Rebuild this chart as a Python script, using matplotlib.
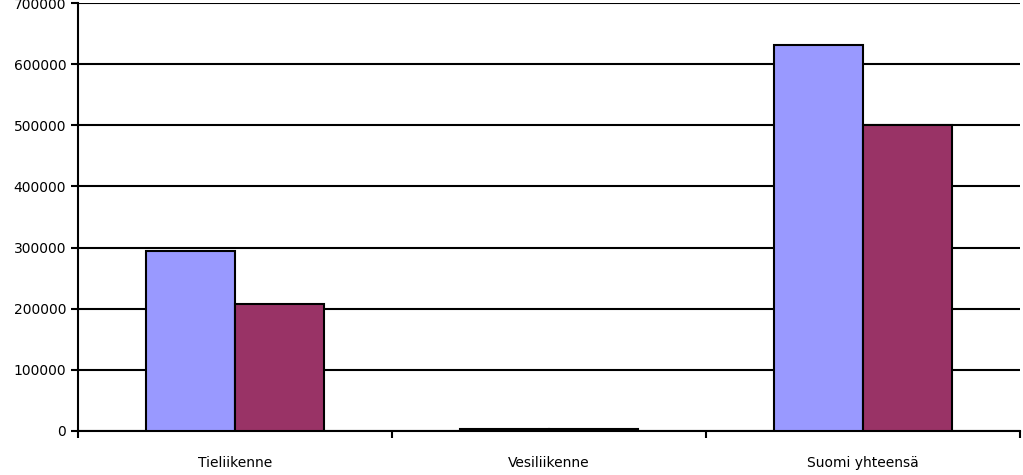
import numpy as np
import matplotlib.pyplot as plt

categories = ['Tieliikenne', 'Vesiliikenne', 'Suomi yhteensä']
series_a = [295000, 3000, 632000]
series_b = [208000, 3000, 501000]

fig = plt.figure(figsize=(10.23, 4.75), dpi=100)
ax = fig.add_axes([78/1023, 44/475, 942/1023, 428/475])

x = np.arange(len(categories))
w = 0.285
ax.bar(x - w/2, series_a, w, color='#9999ff', edgecolor='black', linewidth=1.5, zorder=3)
ax.bar(x + w/2, series_b, w, color='#993366', edgecolor='black', linewidth=1.5, zorder=3)

ax.set_xlim(-0.5, 2.5)
ax.set_ylim(0, 700000)
ax.set_yticks(np.arange(0, 700001, 100000))
ax.yaxis.grid(True, color='black', linewidth=1.5, zorder=0)
ax.set_xticks(np.arange(-0.5, 2.6, 1))
ax.set_xticklabels([])
ax.set_xticks(x, minor=True)
ax.set_xticklabels(categories, minor=True)
ax.tick_params(axis='x', which='minor', length=0, pad=18, labelsize=10)
ax.tick_params(axis='x', which='major', length=5, width=1.5, direction='out')
ax.tick_params(axis='y', length=5, width=1.5, labelsize=10)
for s in ['top', 'right']:
    ax.spines[s].set_visible(False)
ax.spines['left'].set_linewidth(1.5)
ax.spines['bottom'].set_linewidth(1.5)

fig.savefig('out.png', dpi=100)
